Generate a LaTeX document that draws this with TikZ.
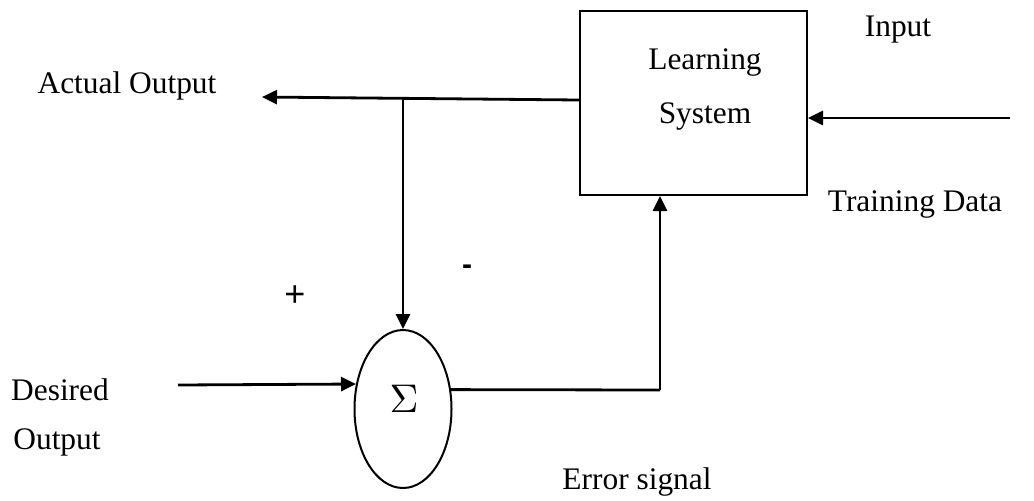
\documentclass[tikz,border=0pt]{standalone}
\usepackage{fontspec}
\setmainfont{Liberation Serif}
\newfontfamily\signfont{Liberation Sans}
\usetikzlibrary{arrows.meta,shapes.geometric}
\begin{document}
\begin{tikzpicture}[x=0.5pt,y=-0.5pt,
  txt/.style={font=\fontsize{15.7}{19}\selectfont, inner sep=0pt},
  wire/.style={line width=1.4pt, -{Triangle[length=7.5pt,width=7pt]}},
  plain/.style={line width=1.4pt}]
\useasboundingbox (0,0) rectangle (1034,500);

% blocks
\node[draw, line width=1pt, minimum width=113.5pt, minimum height=92pt, inner sep=0pt]
  (learn) at (693.5,103) {};
\node[draw, line width=1pt, ellipse, minimum width=48.5pt, minimum height=79pt, inner sep=0pt]
  (sum) at (403,409) {};

% texts
\node[txt] (t1) at (705,62) {Learning};
\node[txt] (t2) at (705,116) {System};
\node[inner sep=0pt] (sig) at (404,399) {\scalebox{2}{$\Sigma$}};
\node[txt] (inp) at (898,30) {Input};
\node[txt] (td) at (915,204) {Training Data};
\node[txt] (ao) at (127,86) {Actual Output};
\node[txt] (ds) at (60,390) {Desired};
\node[txt] (op) at (57,442) {Output};
\node[txt] (es) at (637,482) {Error signal};
\node[inner sep=0pt, font=\signfont\fontsize{18}{20}\selectfont] (plus) at (295,296) {+};
\node[inner sep=0pt, font=\signfont\bfseries\fontsize{15}{17}\selectfont] (minus) at (467,270) {-};

% free ends and junctions
\coordinate (aoend) at (262,97);
\coordinate (split) at (403,98.5);
\coordinate (desired) at (178,385);
\coordinate (err) at (660,390);
\coordinate (input) at (1010,118);

% connectors
\draw[wire] ([yshift=1.5pt]learn.west) -- (aoend);
\draw[wire] (split) -- (sum.north);
\draw[wire] (desired) -- (sum.152);
\draw[plain] (sum.22) -- (err);
\draw[wire] (err) -- (err |- learn.south);
\draw[wire] (input) -- (input -| learn.east);
\end{tikzpicture}
\end{document}
